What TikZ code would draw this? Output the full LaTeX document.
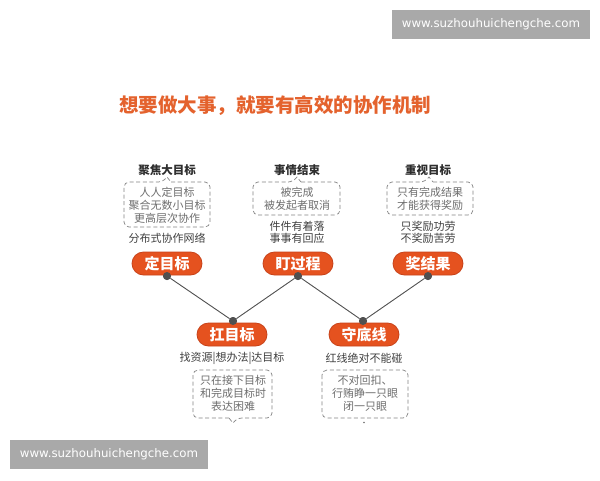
\documentclass[tikz,border=0pt]{standalone}
\usepackage{fontspec}
\setmainfont{Noto Sans CJK SC}
\newfontfamily\wmfont{DejaVu Sans}
\definecolor{accent}{HTML}{E5521F}
\definecolor{accentdark}{HTML}{C8431A}
\definecolor{titleor}{HTML}{E4622D}
\definecolor{dotgray}{HTML}{505050}
\definecolor{graytxt}{HTML}{6E6E6E}
\definecolor{darktxt}{HTML}{404040}
\definecolor{headtxt}{HTML}{2E2E2E}
\definecolor{wmgray}{HTML}{A9A9A9}
\newcommand\bubbletop[5]{% l t r b notchx
  \draw[dashbox] ({#5+4},#2) -- (#3,#2) -- (#3,#4) -- (#1,#4) -- (#1,#2) -- ({#5-4},#2) [sharp corners] -- (#5,{#2-5}) -- ({#5+4},#2);}
\newcommand\bubblebot[5]{% l t r b notchx
  \draw[dashbox] ({#5-4},#4) -- (#1,#4) -- (#1,#2) -- (#3,#2) -- (#3,#4) -- ({#5+4},#4) [sharp corners] -- (#5,{#4+5}) -- ({#5-4},#4);}
\begin{document}
\begin{tikzpicture}[x=1pt,y=-1pt,
  pill/.style={rectangle, rounded corners=11.5pt, fill=accent, draw=accentdark, line width=0.8pt,
    minimum width=70pt, minimum height=23pt, inner sep=0pt, text=white,
    font=\bfseries\fontsize{15}{15}\selectfont},
  dot/.style={circle, fill=dotgray, inner sep=0pt, minimum size=8pt},
  conn/.style={draw=dotgray, line width=0.9pt},
  dashbox/.style={draw=graytxt!85, line width=0.7pt, dash pattern=on 4pt off 2.6pt, rounded corners=5pt},
  head/.style={text=headtxt, font=\bfseries\fontsize{11.5}{13}\selectfont, inner sep=0pt},
  graylines/.style={text=graytxt, align=center, font=\fontsize{11}{13}\selectfont, inner sep=0pt},
  darklines/.style={text=darktxt, align=center, font=\fontsize{11}{11.8}\selectfont, inner sep=0pt},
  wmbox/.style={fill=wmgray, draw=none},
  wmtext/.style={text=white, font=\wmfont\fontsize{11.8}{12}\selectfont, inner sep=0pt}
]
\useasboundingbox (0,0) rectangle (600,480);
\fill[white] (0,0) rectangle (600,480);

% watermarks
\fill[wmbox] (392,10) rectangle (590,39);
\node[wmtext] (wm1) at (491,24.5) {www.suzhouhuichengche.com};
\fill[wmbox] (10,440) rectangle (208,469);
\node[wmtext] (wm2) at (109,454.5) {www.suzhouhuichengche.com};

% title
\node[anchor=west, inner sep=0pt, text=titleor, font=\bfseries\fontsize{19.5}{20}\selectfont] (title) at (119,106) {想要做大事，就要有高效的协作机制};

% dots
\node[dot] (d1) at (167,276) {};
\node[dot] (d2) at (298,276) {};
\node[dot] (d3) at (428,276) {};
\node[dot] (d4) at (233,321) {};
\node[dot] (d5) at (363,321) {};

% connectors
\draw[conn] (d1) -- (d4);
\draw[conn] (d2) -- (d4);
\draw[conn] (d2) -- (d5);
\draw[conn] (d3) -- (d5);

% pills
\node[pill] (p1) at (167,263.5) {定目标};
\node[pill] (p2) at (298,263.5) {盯过程};
\node[pill] (p3) at (428,263.5) {奖结果};
\node[pill] (p4) at (232,334.5) {扛目标};
\node[pill] (p5) at (364,334.5) {守底线};
\node[dot] at (d1) {};
\node[dot] at (d2) {};
\node[dot] at (d3) {};
\node[dot] at (d4) {};
\node[dot] at (d5) {};

% column 1
\node[head] (h1) at (167,170) {聚焦大目标};
\bubbletop{124}{182}{210}{227}{167}
\node[graylines] (g1) at (167,205) {人人定目标\\聚合无数小目标\\更高层次协作};
\node[darklines] (t1) at (167,238) {分布式协作网络};

% column 2
\node[head] (h2) at (297,170) {事情结束};
\bubbletop{253}{182}{340}{215}{297}
\node[graylines] (g2) at (297,199) {被完成\\被发起者取消};
\node[darklines] (t2) at (297,232.5) {件件有着落\\事事有回应};

% column 3
\node[head] (h3) at (428,170) {重视目标};
\bubbletop{387}{182}{473}{215}{429}
\node[graylines] (g3) at (430,199) {只有完成结果\\才能获得奖励};
\node[darklines] (t3) at (428,232.5) {只奖励功劳\\不奖励苦劳};

% bottom 1
\node[darklines] (b1) at (232,358) {找资源|想办法|达目标};
\bubblebot{193}{370}{272}{418}{233}
\node[graylines] (g4) at (233,393.5) {只在接下目标\\和完成目标时\\表达困难};

% bottom 2
\node[darklines] (b2) at (364,358) {红线绝对不能碰};
\draw[dashbox] (322,370) rectangle (408,418);
\fill[graytxt] (364,422.5) circle (0.8);
\node[graylines] (g5) at (365,393.5) {不对回扣、\\行贿睁一只眼\\闭一只眼};
\end{tikzpicture}
\end{document}
